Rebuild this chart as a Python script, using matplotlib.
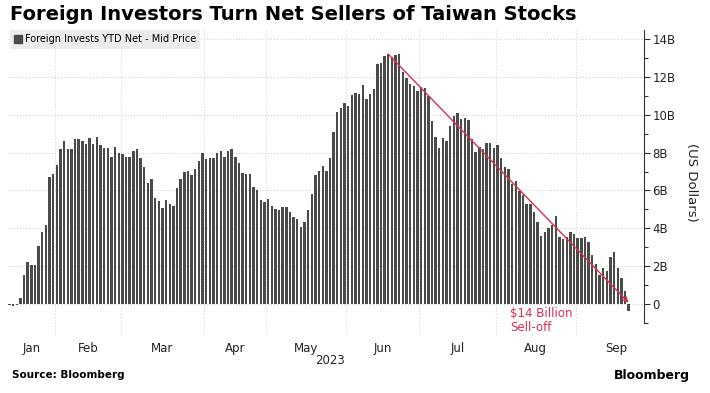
import numpy as np
import matplotlib
matplotlib.use("Agg")
import matplotlib.pyplot as plt
from matplotlib.patches import Patch

# foreign investors YTD net buying, billions of USD, one value per trading day
jan = [-0.05, -0.1, -0.08, 0.28, 1.52, 2.19, 2.05, 2.05, 3.07, 3.78, 4.17, 6.70, 6.87]
feb = [7.35, 8.20, 8.62, 8.20, 8.20, 8.73, 8.73, 8.62, 8.46, 8.76, 8.46, 8.82,
       8.41, 8.25, 8.25, 7.77, 8.32, 7.99]
mar = [7.93, 7.77, 7.77, 8.11, 8.20, 7.70, 7.24, 6.40, 6.61, 5.60, 5.42, 5.07,
       5.49, 5.28, 5.18, 6.11, 6.61, 7.00, 7.03, 6.80, 7.14, 7.56, 7.99]
apr = [7.65, 7.70, 7.72, 7.99, 8.11, 7.77, 8.11, 8.20, 7.77, 7.44, 6.94, 6.86,
       6.86, 6.17, 6.02, 5.49, 5.41]
may = [5.55, 5.18, 5.02, 4.96, 5.11, 5.11, 4.88, 4.58, 4.47, 4.05, 4.31, 4.95,
       5.83, 6.82, 7.03, 7.28, 7.03, 7.72, 9.08, 10.14, 10.37, 10.62]
jun = [10.48, 11.04, 11.15, 11.10, 11.59, 10.85, 11.10, 11.36, 12.69, 12.77,
       13.11, 13.22, 13.07, 13.18, 13.22, 12.30, 11.96, 11.63, 11.54, 11.27]
jul = [11.47, 11.41, 11.02, 9.68, 8.82, 8.27, 8.80, 8.62, 9.43, 9.96, 10.11,
       9.77, 9.84, 9.72, 8.73, 8.06, 8.29, 8.20, 8.53, 8.53, 8.27]
aug = [8.41, 7.70, 7.24, 7.14, 6.36, 6.50, 5.99, 5.76, 5.28, 5.28, 4.88, 4.35,
       3.60, 3.82, 3.99, 4.17, 4.65, 3.55, 3.43, 3.52, 3.82, 3.69]
sep = [3.46, 3.50, 3.53, 3.25, 2.58, 2.10, 1.52, 1.87, 1.75, 2.47, 2.72, 1.87,
       1.34, 0.69, -0.37]

months = [jan, feb, mar, apr, may, jun, jul, aug, sep]
month_names = ["Jan", "Feb", "Mar", "Apr", "May", "Jun", "Jul", "Aug", "Sep"]
ytick_vals = [0, 2, 4, 6, 8, 10, 12, 14]
ytick_labels = ["0", "2B", "4B", "6B", "8B", "10B", "12B", "14B"]

values = np.concatenate(months)
idx = np.arange(len(values))

# month boundaries and label centres (Sep treated as a full month)
counts = [len(m) for m in months]
starts = np.cumsum([0] + counts[:-1])
bounds = starts[1:] - 0.5
centers = [s + (c - 1) / 2 for s, c in zip(starts[:-1], counts[:-1])]
centers.append(starts[-1] + 10.5)

peak_i = int(np.argmax(values))
last_i = len(values) - 1

fig = plt.figure(figsize=(7.1, 3.93), dpi=100)
ax = fig.add_axes([0.0108, 0.1476, 0.8962, 0.7761])

bar_col = "#4a4a4a"
red = "#d9304f"

ax.bar(idx, values, width=0.66, color=bar_col, zorder=3)

ax.set_xlim(-0.5, 174.2)
ax.set_ylim(-1.66, 14.5)

for s in ["top", "left", "bottom"]:
    ax.spines[s].set_visible(False)
ax.spines["right"].set_bounds(-1.0, 14.5)
ax.spines["right"].set_color("#333333")
ax.spines["right"].set_linewidth(0.8)

ax.yaxis.tick_right()
ax.set_yticks(ytick_vals)
ax.set_yticklabels(ytick_labels)
ax.set_yticks(np.arange(-1, 15, 2), minor=True)
ax.tick_params(axis="y", which="major", length=4, width=0.8, color="#333333",
               labelsize=8.5, pad=2, labelcolor="#222222")
ax.tick_params(axis="y", which="minor", length=3, width=0.8, color="#333333")
ax.yaxis.grid(True, which="major", linestyle=(0, (1, 2)), color="#c8c8c8",
              linewidth=0.7, zorder=0)

ax.set_xticks(bounds)
ax.set_xticklabels([])
ax.set_xticks(centers, minor=True)
ax.set_xticklabels(month_names, minor=True)
ax.tick_params(axis="x", which="both", length=0, labelsize=8.5, pad=5,
               labelcolor="#222222")
ax.xaxis.grid(True, which="major", linestyle=(0, (1, 2)), color="#d0d0d0",
              linewidth=0.7, zorder=0)

ax.yaxis.set_label_position("right")
ax.set_ylabel("(US Dollars)", rotation=270, fontsize=9.5, labelpad=16,
              color="#222222")

ax.annotate("", xy=(last_i, 0.05), xytext=(peak_i, values[peak_i]),
            arrowprops=dict(arrowstyle="->", color=red, lw=1.0,
                            shrinkA=0, shrinkB=0, mutation_scale=8),
            zorder=5)
ax.text(137.5, -0.2, "$14 Billion\nSell-off", color=red, fontsize=8.5,
        va="top", ha="left", linespacing=1.1, zorder=5)

leg = ax.legend(handles=[Patch(color=bar_col)],
                labels=["Foreign Invests YTD Net - Mid Price"],
                loc="upper left", bbox_to_anchor=(0.003, 1.0), fontsize=7,
                frameon=True, fancybox=False, handlelength=0.8,
                handleheight=0.8, handletextpad=0.3, borderpad=0.45,
                borderaxespad=0)
leg.get_frame().set_facecolor("#ececec")
leg.get_frame().set_edgecolor("none")
leg.get_frame().set_alpha(1)

fig.text(0.014, 0.962, "Foreign Investors Turn Net Sellers of Taiwan Stocks",
         fontsize=14, fontweight="bold", va="center", ha="left")
fig.text(330 / 710, 1 - 360 / 393, "2023", fontsize=8.5, ha="center",
         va="center", color="#222222")
fig.text(12 / 710, 1 - 375 / 393, "Source: Bloomberg", fontsize=7.5,
         fontweight="bold", va="center", ha="left")
fig.text(690 / 710, 1 - 375 / 393, "Bloomberg", fontsize=9,
         fontweight="bold", va="center", ha="right")

fig.savefig("out.png", dpi=100)
